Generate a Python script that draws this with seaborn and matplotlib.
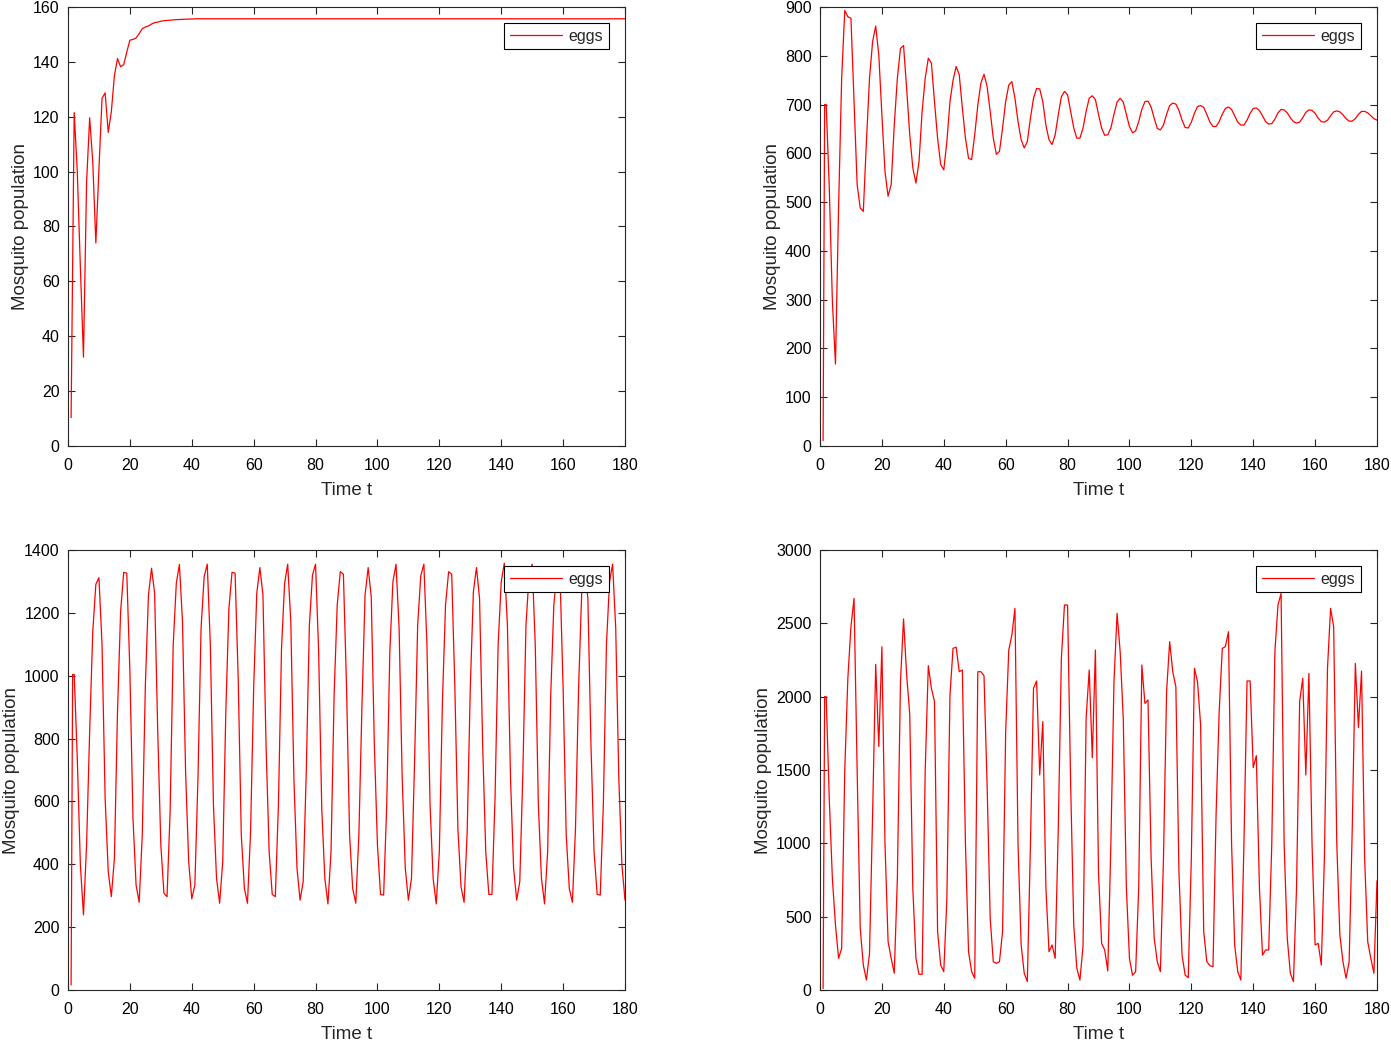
import matplotlib
matplotlib.use("Agg")
import matplotlib.pyplot as plt
import seaborn as sns
import pandas as pd

# time grids
t_a = list(range(1, 181))
t_b = [1, 1.5, 2] + list(range(3, 181))

# panel 1 (top left)
eggs_1 = [
    10.3, 121.5, 100, 65, 32.4, 96, 119.6, 103.6, 74, 101,
    126.7, 128.7, 114.3, 121.8, 135, 141.2, 138.2, 139, 143.6, 147.9,
    148.2, 148.7, 150.3, 152.1, 152.7, 153.1, 153.8, 154.3, 154.5, 154.8,
    155.0, 155.1, 155.2, 155.3, 155.4, 155.45, 155.5, 155.55, 155.6, 155.6,
    155.7, 155.7, 155.7, 155.7, 155.7, 155.7, 155.7, 155.7, 155.7, 155.7,
    155.7, 155.7, 155.7, 155.7, 155.7, 155.7, 155.7, 155.7, 155.7, 155.7,
    155.7, 155.7, 155.7, 155.7, 155.7, 155.7, 155.7, 155.7, 155.7, 155.7,
    155.7, 155.7, 155.7, 155.7, 155.7, 155.7, 155.7, 155.7, 155.7, 155.7,
    155.7, 155.7, 155.7, 155.7, 155.7, 155.7, 155.7, 155.7, 155.7, 155.7,
    155.7, 155.7, 155.7, 155.7, 155.7, 155.7, 155.7, 155.7, 155.7, 155.7,
    155.7, 155.7, 155.7, 155.7, 155.7, 155.7, 155.7, 155.7, 155.7, 155.7,
    155.7, 155.7, 155.7, 155.7, 155.7, 155.7, 155.7, 155.7, 155.7, 155.7,
    155.7, 155.7, 155.7, 155.7, 155.7, 155.7, 155.7, 155.7, 155.7, 155.7,
    155.7, 155.7, 155.7, 155.7, 155.7, 155.7, 155.7, 155.7, 155.7, 155.7,
    155.7, 155.7, 155.7, 155.7, 155.7, 155.7, 155.7, 155.7, 155.7, 155.7,
    155.7, 155.7, 155.7, 155.7, 155.7, 155.7, 155.7, 155.7, 155.7, 155.7,
    155.7, 155.7, 155.7, 155.7, 155.7, 155.7, 155.7, 155.7, 155.7, 155.7,
    155.7, 155.7, 155.7, 155.7, 155.7, 155.7, 155.7, 155.7, 155.7, 155.7,
]

# panel 2 (top right)
eggs_2 = [
    11, 700, 700,
    529, 297, 168, 488, 754, 893, 880, 877, 706, 536,
    488, 481, 624, 754, 829, 861, 802, 679, 563, 512,
    536, 658, 754, 815, 821, 733, 638, 570, 539, 583,
    686, 754, 795, 785, 706, 631, 577, 566, 624, 706,
    750, 778, 761, 693, 631, 590, 587, 638, 699, 744,
    762, 737, 686, 631, 598, 604, 652, 706, 740, 747,
    713, 665, 628, 611, 624, 672, 713, 733, 732, 706,
    658, 628, 618, 638, 679, 716, 727, 720, 686, 652,
    631, 631, 652, 686, 713, 718, 710, 680, 652, 637,
    638, 652, 680, 705, 713, 705, 680, 655, 642, 646,
    665, 690, 706, 707, 695, 672, 651, 648, 658, 680,
    698, 703, 701, 688, 668, 653, 652, 664, 682, 696,
    698, 694, 680, 664, 655, 655, 665, 680, 692, 695,
    690, 677, 664, 658, 658, 668, 682, 692, 693, 688,
    677, 665, 660, 661, 670, 683, 690, 689, 683, 673,
    665, 662, 664, 673, 684, 689, 688, 682, 672, 665,
    664, 668, 677, 685, 687, 685, 679, 671, 666, 666,
    671, 680, 686, 686, 683, 677, 671, 668,
]

# panel 3 (bottom left)
eggs_3 = [
    16, 1004, 1004,
    737, 398, 239, 461, 822, 1140, 1291, 1312, 1098, 610,
    377, 297, 419, 886, 1204, 1329, 1326, 1013, 546, 334,
    279, 493, 970, 1257, 1342, 1262, 822, 461, 308, 297,
    567, 1098, 1294, 1354, 1172, 695, 408, 290, 334, 674,
    1151, 1315, 1355, 1098, 589, 355, 276, 408, 886, 1214,
    1329, 1326, 992, 493, 323, 276, 504, 960, 1262, 1344,
    1257, 780, 440, 304, 297, 589, 1087, 1294, 1355, 1172,
    674, 387, 286, 345, 695, 1161, 1320, 1355, 1076, 578,
    355, 274, 440, 939, 1225, 1331, 1323, 970, 493, 323,
    276, 493, 907, 1257, 1344, 1251, 780, 461, 304, 302,
    589, 1076, 1299, 1355, 1151, 674, 387, 286, 355, 727,
    1161, 1318, 1355, 1098, 589, 355, 274, 440, 917, 1225,
    1331, 1323, 970, 514, 329, 279, 504, 960, 1267, 1344,
    1246, 780, 440, 304, 304, 610, 1098, 1299, 1358, 1161,
    674, 387, 286, 345, 695, 1161, 1320, 1355, 1098, 589,
    355, 274, 440, 939, 1225, 1333, 1320, 960, 493, 323,
    279, 514, 960, 1262, 1344, 1246, 780, 440, 304, 302,
    589, 1098, 1299, 1355, 1151, 674, 398, 286,
]

# panel 4 (bottom right)
eggs_4 = [
    10, 2000, 2000,
    1300, 760, 443, 216, 284, 1500, 2125, 2477, 2670, 1500,
    420, 170, 68, 250, 1200, 2220, 1660, 2340, 1000, 330,
    216, 114, 760, 2100, 2530, 2150, 1880, 690, 216, 107,
    107, 1500, 2211, 2057, 1966, 400, 170, 125, 620, 2011,
    2330, 2337, 2170, 2182, 1000, 261, 125, 80, 2170, 2170,
    2143, 1400, 488, 193, 182, 193, 400, 1761, 2318, 2420,
    2602, 988, 307, 114, 57, 988, 2057, 2107, 1466, 1830,
    700, 261, 307, 216, 1100, 2261, 2625, 2625, 1400, 443,
    148, 68, 300, 1852, 2182, 1584, 2318, 800, 318, 273,
    130, 1000, 2100, 2568, 2307, 1852, 700, 216, 100, 125,
    700, 2216, 1954, 1977, 900, 352, 193, 125, 900, 2034,
    2375, 2170, 2068, 800, 238, 102, 84, 900, 2193, 2102,
    1807, 400, 193, 166, 159, 1200, 1898, 2329, 2341, 2443,
    1000, 307, 125, 68, 1000, 2107, 2107, 1516, 1598, 700,
    238, 273, 273, 1000, 2307, 2625, 2704, 988, 352, 114,
    57, 700, 1966, 2125, 1466, 2159, 1000, 307, 318, 170,
    900, 2193, 2602, 2477, 1000, 375, 193, 80, 193, 1100,
    2227, 1789, 2175, 900, 330, 216, 114, 745,
]

y_ticks_1 = list(range(0, 161, 20))
y_ticks_2 = list(range(0, 901, 100))
y_ticks_3 = list(range(0, 1401, 200))
y_ticks_4 = list(range(0, 3001, 500))
x_ticks = list(range(0, 181, 20))

sns.set_style("ticks")
plt.rcParams['font.family'] = ['Liberation Sans', 'DejaVu Sans']

fig = plt.figure(figsize=(13.91, 10.61), dpi=100)

W, H = 1391, 1061
boxes = [
    (68, 7, 625, 446),
    (820, 7, 1377, 446),
    (68, 550, 625, 990),
    (820, 550, 1377, 990),
]
panels = [
    (t_a, eggs_1, y_ticks_1),
    (t_b, eggs_2, y_ticks_2),
    (t_b, eggs_3, y_ticks_3),
    (t_b, eggs_4, y_ticks_4),
]

for (x0, y0, x1, y1), (tt, vals, yt) in zip(boxes, panels):
    ax = fig.add_axes([x0 / W, 1 - y1 / H, (x1 - x0) / W, (y1 - y0) / H])
    df = pd.DataFrame({"t": tt, "eggs": vals})
    sns.lineplot(data=df, x="t", y="eggs", ax=ax, color="#ff0000",
                 linewidth=0.9, label="eggs", estimator=None, sort=False)
    ax.set_xlim(0, 180)
    ax.set_ylim(yt[0], yt[-1])
    ax.set_xticks(x_ticks)
    ax.set_yticks(yt)
    ax.tick_params(direction="in", top=True, right=True, length=5,
                   width=0.8, labelsize=11.5, colors="#262626",
                   labelcolor="black")
    ax.tick_params(axis="x", pad=9)
    ax.tick_params(axis="y", pad=6)
    for sp in ax.spines.values():
        sp.set_visible(True)
        sp.set_linewidth(0.8)
        sp.set_color("#262626")
    ax.set_xlabel("Time t", fontsize=13.5, labelpad=6)
    ax.set_ylabel("Mosquito population", fontsize=13.5, labelpad=3)
    leg = ax.legend(loc="upper right", fontsize=11.5, handlelength=3.3,
                    handletextpad=0.4, fancybox=False, framealpha=1,
                    edgecolor="black", borderaxespad=1.0, borderpad=0.35)
    leg.get_frame().set_linewidth(0.8)

fig.savefig("out.png", dpi=100)
